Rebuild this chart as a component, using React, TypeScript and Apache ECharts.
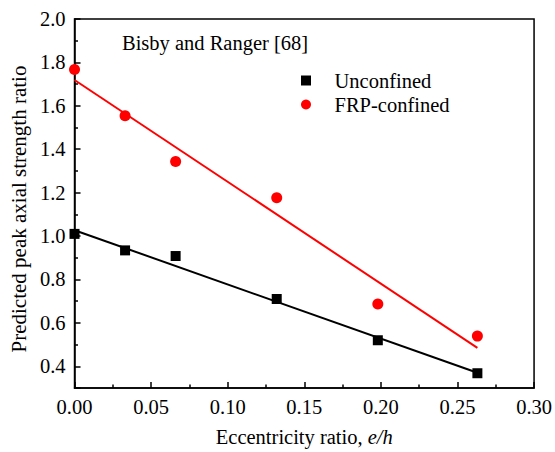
import React, { useEffect, useRef } from "react";
import * as echarts from "echarts";

const ecc = [0, 0.033, 0.066, 0.132, 0.198, 0.263];
const unconfined = [1.01, 0.934, 0.908, 0.71, 0.52, 0.368];
const frpConfined = [1.767, 1.554, 1.344, 1.177, 0.687, 0.539];
const fitX = [0, 0.263];
const unconfinedFit = [1.027, 0.37];
const frpFit = [1.719, 0.485];
const seriesNames = ["Unconfined", "FRP-confined"];
const annotation = "Bisby and Ranger [68]";
const xTitle = "Eccentricity ratio, ";
const xTitleItalic = "e/h";
const yTitle = "Predicted peak axial strength ratio";

const FONT = "Liberation Serif";

export default function App() {
  const ref = useRef<HTMLDivElement>(null);
  useEffect(() => {
    document.body.style.margin = "0";
    if (!ref.current) return;
    const chart = echarts.init(ref.current, null, { renderer: "svg" });
    const pair = (xs: number[], ys: number[]) => xs.map((x, i) => [x, ys[i]]);
    const axisLine = { show: true, lineStyle: { color: "#000", width: 1.5 } };
    chart.setOption({
      animation: false,
      backgroundColor: "#fff",
      textStyle: { fontFamily: FONT },
      grid: {
        left: 72,
        top: 19,
        right: 16,
        bottom: 60,
        show: true,
        borderColor: "#000",
        borderWidth: 1.5,
      },
      legend: {
        orient: "vertical",
        left: 301,
        top: 70,
        padding: 0,
        itemWidth: 47,
        itemHeight: 10,
        itemGap: 3,
        symbolKeepAspect: true,
        textStyle: { fontFamily: FONT, fontSize: 20.5, lineHeight: 20, color: "#000" },
        data: [
          { name: seriesNames[0], icon: "path://M0,0H10V10H0Z" },
          { name: seriesNames[1], icon: "circle" },
        ],
      },
      graphic: [
        {
          type: "text",
          left: 122,
          top: 32,
          style: { text: annotation, fontFamily: FONT, fontSize: 20.5, fill: "#000" },
        },
      ],
      xAxis: {
        type: "value",
        min: 0,
        max: 0.3,
        interval: 0.05,
        name: xTitle + "{i|" + xTitleItalic + "}",
        nameLocation: "middle",
        nameGap: 38,
        nameTextStyle: {
          fontFamily: FONT,
          fontSize: 20.5,
          color: "#000",
          rich: { i: { fontFamily: FONT, fontSize: 20.5, fontStyle: "italic", color: "#000" } },
        },
        axisLine,
        axisTick: { show: true, inside: true, length: 6, lineStyle: { color: "#000", width: 1.5 } },
        minorTick: { show: true, splitNumber: 2, length: 3.5, lineStyle: { color: "#000", width: 1.5 } },
        splitLine: { show: false },
        axisLabel: {
          fontFamily: FONT,
          fontSize: 20.5,
          color: "#000",
          margin: 8,
          formatter: (v: number) => v.toFixed(2),
        },
      },
      yAxis: {
        type: "value",
        min: 0.3,
        max: 2.0,
        splitNumber: 8,
        minInterval: 0.2,
        maxInterval: 0.2,
        name: yTitle,
        nameLocation: "middle",
        nameGap: 35,
        nameTextStyle: { fontFamily: FONT, fontSize: 21, color: "#000", padding: [0, 11, 0, 0] },
        axisLine,
        axisTick: { show: true, inside: true, length: 6, lineStyle: { color: "#000", width: 1.5 } },
        minorTick: { show: true, splitNumber: 2, length: 3.5, lineStyle: { color: "#000", width: 1.5 } },
        splitLine: { show: false },
        axisLabel: {
          fontFamily: FONT,
          fontSize: 20.5,
          color: "#000",
          margin: 9,
          showMinLabel: false,
          formatter: (v: number) => v.toFixed(1),
        },
      },
      series: [
        {
          name: "Unconfined fit",
          type: "line",
          data: pair(fitX, unconfinedFit),
          showSymbol: false,
          lineStyle: { color: "#000", width: 2 },
          itemStyle: { color: "#000" },
          z: 2,
        },
        {
          name: "FRP-confined fit",
          type: "line",
          data: pair(fitX, frpFit),
          showSymbol: false,
          lineStyle: { color: "#ff0000", width: 2 },
          itemStyle: { color: "#ff0000" },
          z: 2,
        },
        {
          name: seriesNames[0],
          type: "scatter",
          symbol: "rect",
          symbolSize: 10,
          data: pair(ecc, unconfined),
          itemStyle: { color: "#000", opacity: 1 },
          z: 3,
        },
        {
          name: seriesNames[1],
          type: "scatter",
          symbol: "circle",
          symbolSize: 11,
          data: pair(ecc, frpConfined),
          itemStyle: { color: "#ff0000", opacity: 1 },
          z: 3,
        },
      ],
    });
    return () => chart.dispose();
  }, []);
  return <div ref={ref} style={{ width: 555, height: 452 }} />;
}
